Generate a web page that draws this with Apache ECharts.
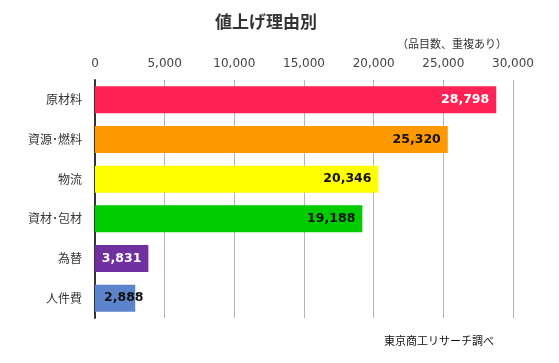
<!DOCTYPE html>
<html><head><meta charset="utf-8">
<script src="https://cdn.jsdelivr.net/npm/echarts@6/dist/echarts.min.js"></script>
<style>html,body{margin:0;padding:0;background:#fff}#c{width:559px;height:363px}</style>
</head><body><div id="c"></div>
<script>
const categories = ['原材料', '資源･燃料', '物流', '資材･包材', '為替', '人件費'];
const values = [28798, 25320, 20346, 19188, 3831, 2888];
const barColors = ['#FF2255', '#FF9900', '#FFFF00', '#00CC00', '#7030A0', '#5B84CC'];
const labelColors = ['#ffffff', '#111111', '#111111', '#111111', '#ffffff', '#111111'];
const xTicks = [0, 5000, 10000, 15000, 20000, 25000, 30000];

const chart = echarts.init(document.getElementById('c'), null, {renderer: 'canvas'});
const font = '"Noto Sans CJK JP", "Noto Sans", sans-serif';
chart.setOption({
  animation: false,
  backgroundColor: '#fff',
  title: [
    {text: '値上げ理由別', left: 210, top: 8,
     textStyle: {fontSize: 17, fontWeight: 'bold', color: '#333', fontFamily: font}},
    {text: '（品目数、重複あり）', right: 47, top: 33,
     textStyle: {fontSize: 11, fontWeight: 'normal', color: '#333', fontFamily: font}},
    {text: '東京商工リサーチ調べ', right: 60, top: 330,
     textStyle: {fontSize: 11, fontWeight: 'normal', color: '#111', fontFamily: font}}
  ],
  grid: {left: 95, right: 46, top: 80, bottom: 45},
  xAxis: {
    type: 'value', position: 'top', min: xTicks[0], max: xTicks[xTicks.length - 1], interval: 5000,
    axisLine: {show: false}, axisTick: {show: false},
    splitLine: {show: true, lineStyle: {color: '#b5b5b5', width: 1}},
    axisLabel: {margin: 10, fontSize: 12, color: '#444', fontFamily: '"DejaVu Sans", sans-serif',
      formatter: v => v.toLocaleString('en-US')}
  },
  yAxis: {
    type: 'category', inverse: true, data: categories,
    axisLine: {show: true, lineStyle: {color: '#333', width: 2}},
    axisTick: {show: false},
    axisLabel: {margin: 13, fontSize: 12, color: '#333', fontFamily: font}
  },
  series: [{
    type: 'bar', barWidth: '68%',
    data: values.map((v, i) => ({
      value: v,
      itemStyle: {color: barColors[i]},
      label: i === values.length - 1
        ? {color: labelColors[i], position: 'insideLeft', distance: 9}
        : {color: labelColors[i]}
    })),
    label: {show: true, position: 'insideRight', distance: 7, fontSize: 12.5, fontWeight: 'bold',
      fontFamily: '"DejaVu Sans", sans-serif',
      formatter: p => p.value.toLocaleString('en-US')}
  }]
});
</script></body></html>
